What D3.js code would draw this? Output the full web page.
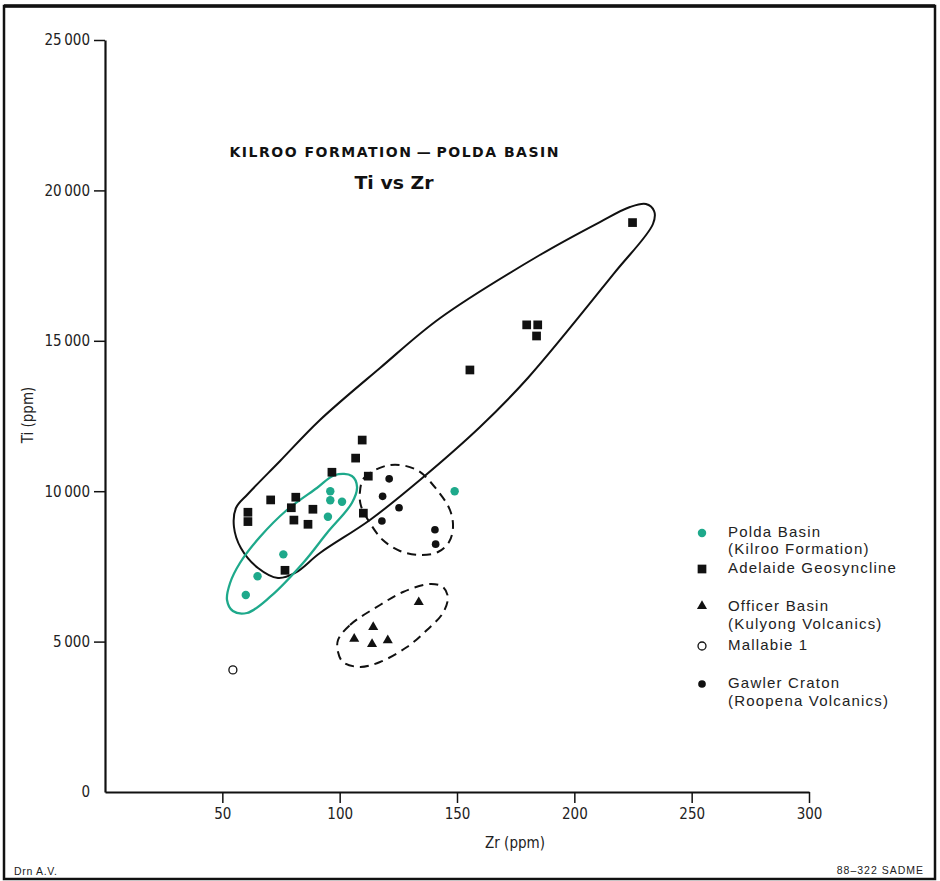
<!DOCTYPE html>
<html>
<head>
<meta charset="utf-8">
<script src="https://cdn.jsdelivr.net/npm/d3@7"></script>
<style>
  html, body { margin: 0; padding: 0; background: #fff; }
  svg { display: block; }
  .cond { font-family: "DejaVu Sans Condensed", "DejaVu Sans", sans-serif; font-stretch: condensed; }
  .sans { font-family: "Liberation Sans", Arial, sans-serif; }
  .wide { font-family: "DejaVu Sans", "Liberation Sans", sans-serif; }
</style>
</head>
<body>
<script>
// Ti vs Zr geochemistry plot, Kilroo Formation – Polda Basin

// Axis ticks
const xTicks = [50, 100, 150, 200, 250, 300];
const yTicks = [0, 5000, 10000, 15000, 20000, 25000];
const yTickLabels = ["0", "5\u2009000", "10\u2009000", "15\u2009000", "20\u2009000", "25\u2009000"];

// Samples: [Zr ppm, Ti ppm]
const poldaBasin = [[96, 10000], [96, 9700], [101, 9650], [95, 9150], [76, 7900], [65, 7170], [60, 6550], [149, 10000]];
const adelaideGeosyncline = [
  [109.6, 11700], [106.8, 11100], [96.7, 10630], [112.2, 10500], [70.6, 9710], [81.3, 9800],
  [79.4, 9450], [88.6, 9400], [60.9, 9300], [60.9, 8990], [80.5, 9040], [86.5, 8900],
  [110.1, 9270], [76.7, 7370], [155.5, 14030], [179.7, 15530], [184.4, 15530], [183.9, 15160], [224.8, 18930]
];
const officerBasin = [[133.7, 6310], [114.3, 5480], [106.2, 5090], [113.8, 4920], [120.5, 5040]];
const mallabie = [[54.5, 4060]];
const gawlerCraton = [[121.1, 10410], [118.3, 9830], [125.3, 9450], [118.0, 9010], [140.6, 8720], [140.9, 8240]];

// Field envelopes, outlines in data units [Zr, Ti]
const adelaideEnvelope = [
  [55.8, 9441], [60.9, 9907], [74.6, 11004], [91.6, 12367], [117.2, 14096], [142.7, 15750],
  [185.3, 17852], [210.9, 18949], [223.7, 19448], [230.5, 19548], [234.0, 19315], [233.5, 18883],
  [217.0, 17250], [180.2, 13763], [159.8, 12134], [134.2, 10372], [112.9, 9043],
  [91.6, 7945], [81.0, 7281], [73.7, 7114], [65.2, 7447], [57.9, 8112], [54.96, 8810]
];
const poldaEnvelope = [
  [105.2, 10505], [107.4, 10140], [105.2, 9608], [94.6, 8610], [84.4, 7613], [70.3, 6483],
  [60.5, 5951], [54.5, 6017], [52.0, 6383], [53.3, 6948], [57.5, 7613], [66.0, 8477],
  [77.5, 9375], [90.3, 10106], [98.0, 10539]
];
const gawlerEnvelope = [
  [108.6, 9940], [110.4, 10439], [121.4, 10871], [132.9, 10705], [141.5, 10040], [147.0, 9375],
  [148.3, 8810], [146.6, 8311], [141.9, 7979], [134.2, 7879], [125.7, 8012], [118.4, 8378],
  [112.9, 8943], [109.1, 9508]
];
const officerEnvelope = [
  [99.3, 5053], [104.4, 5552], [117.2, 6217], [127.0, 6649], [138.5, 6915], [144.0, 6815],
  [146.1, 6483], [144.0, 5951], [137.2, 5386], [128.7, 4820], [117.2, 4322], [108.6, 4156],
  [101.4, 4322], [99.3, 4654]
];

// Legend entries
const legendNames = [
  ["Polda Basin", "(Kilroo Formation)"],
  ["Adelaide Geosyncline"],
  ["Officer Basin", "(Kulyong Volcanics)"],
  ["Mallabie 1"],
  ["Gawler Craton", "(Roopena Volcanics)"]
];

const GREEN = "#1ea98b";
const W = 940, H = 881;

const svg = d3.select("body").append("svg").attr("width", W).attr("height", H);

// Frame
svg.append("rect").attr("x", 4).attr("y", 6).attr("width", 931).attr("height", 873)
  .attr("fill", "none").attr("stroke", "#111").attr("stroke-width", 2.5);
svg.append("line").attr("x1", 4).attr("x2", 935).attr("y1", 6).attr("y2", 6)
  .attr("stroke", "#111").attr("stroke-width", 3.5);

const x = d3.scaleLinear().domain([0, 300]).range([105, 809]);
const y = d3.scaleLinear().domain([0, 25000]).range([792, 40]);

// X axis
const gx = svg.append("g").attr("transform", `translate(0,${y(0)})`)
  .call(d3.axisBottom(x).tickValues(xTicks).tickSize(11).tickPadding(5).tickSizeOuter(0));
gx.select(".domain").attr("stroke", "#111").attr("stroke-width", 2.2);
gx.selectAll(".tick line").attr("stroke", "#111").attr("stroke-width", 1.5);
gx.selectAll(".tick text").attr("class", "cond").attr("font-size", 15).attr("fill", "#222");

// Y axis
const gy = svg.append("g").attr("transform", `translate(${x(0)},0)`)
  .call(d3.axisLeft(y).tickValues(yTicks).tickFormat((d, i) => yTickLabels[i])
    .tickSize(11).tickPadding(4).tickSizeOuter(0));
gy.select(".domain").attr("stroke", "#111").attr("stroke-width", 2.2);
gy.selectAll(".tick line").attr("stroke", "#111").attr("stroke-width", 1.5)
  .attr("display", d => d === 0 ? "none" : null);
gy.selectAll(".tick text").attr("class", "cond").attr("font-size", 15).attr("fill", "#222");

// Axis titles
svg.append("text").attr("class", "cond").attr("x", 515).attr("y", 848)
  .attr("text-anchor", "middle").attr("font-size", 15).attr("fill", "#222").text("Zr (ppm)");
svg.append("text").attr("class", "cond")
  .attr("transform", "translate(33,415) rotate(-90)")
  .attr("text-anchor", "middle").attr("font-size", 15).attr("fill", "#222").text("Ti (ppm)");

// Chart title
svg.append("text").attr("class", "wide").attr("x", 394).attr("y", 157)
  .attr("text-anchor", "middle").attr("font-size", 14).attr("font-weight", "bold").attr("fill", "#111")
  .attr("textLength", 329).attr("lengthAdjust", "spacing")
  .text("KILROO FORMATION\u2009\u2014\u2009POLDA BASIN");
svg.append("text").attr("class", "wide").attr("x", 394).attr("y", 189)
  .attr("text-anchor", "middle").attr("font-size", 18).attr("font-weight", "bold").attr("fill", "#111")
  .attr("textLength", 79).attr("lengthAdjust", "spacingAndGlyphs")
  .text("Ti vs Zr");

// Envelopes
const outline = d3.line().x(d => x(d[0])).y(d => y(d[1])).curve(d3.curveCatmullRomClosed.alpha(0.5));
svg.append("path").attr("d", outline(adelaideEnvelope))
  .attr("fill", "none").attr("stroke", "#111").attr("stroke-width", 2);
svg.append("path").attr("d", outline(poldaEnvelope))
  .attr("fill", "none").attr("stroke", GREEN).attr("stroke-width", 2.3);
svg.append("path").attr("d", outline(gawlerEnvelope))
  .attr("fill", "none").attr("stroke", "#111").attr("stroke-width", 2).attr("stroke-dasharray", "9,6");
svg.append("path").attr("d", outline(officerEnvelope))
  .attr("fill", "none").attr("stroke", "#111").attr("stroke-width", 2).attr("stroke-dasharray", "9,6");

// Marker styles per series
const styles = [
  { type: d3.symbolCircle, size: 56, fill: GREEN, stroke: "none" },
  { type: d3.symbolSquare, size: 76, fill: "#111", stroke: "none" },
  { type: d3.symbolTriangle, size: 44, fill: "#111", stroke: "none" },
  { type: d3.symbolCircle, size: 50, fill: "#fff", stroke: "#111" },
  { type: d3.symbolCircle, size: 46, fill: "#111", stroke: "none" }
];
const series = [poldaBasin, adelaideGeosyncline, officerBasin, mallabie, gawlerCraton];

series.forEach((data, i) => {
  const s = styles[i];
  svg.append("g").selectAll("path").data(data).join("path")
    .attr("transform", d => `translate(${x(d[0])},${y(d[1])})`)
    .attr("d", d3.symbol(s.type, s.size)())
    .attr("fill", s.fill).attr("stroke", s.stroke).attr("stroke-width", 1.3);
});

// Legend
const legendRows = [533, 569, 606, 646, 684];
const legendBaselines = [[537, 554], [573], [611, 629], [650], [688, 706]];
legendNames.forEach((lines, i) => {
  const s = styles[i];
  svg.append("path")
    .attr("transform", `translate(702,${legendRows[i]})`)
    .attr("d", d3.symbol(s.type, s.size)())
    .attr("fill", s.fill).attr("stroke", s.stroke).attr("stroke-width", 1.3);
  lines.forEach((t, j) => {
    svg.append("text").attr("class", "sans").attr("x", 728).attr("y", legendBaselines[i][j])
      .attr("font-size", 15).attr("letter-spacing", 1.2).attr("fill", "#222").text(t);
  });
});

// Drawing credits
svg.append("text").attr("class", "sans").attr("x", 14).attr("y", 875)
  .attr("font-size", 10.5).attr("fill", "#222").attr("textLength", 43).attr("lengthAdjust", "spacing")
  .text("Drn A.V.");
svg.append("text").attr("class", "sans").attr("x", 924).attr("y", 874)
  .attr("text-anchor", "end").attr("font-size", 10.5).attr("fill", "#222")
  .attr("letter-spacing", 1)
  .text("88\u2013322 SADME");
</script>
</body>
</html>
